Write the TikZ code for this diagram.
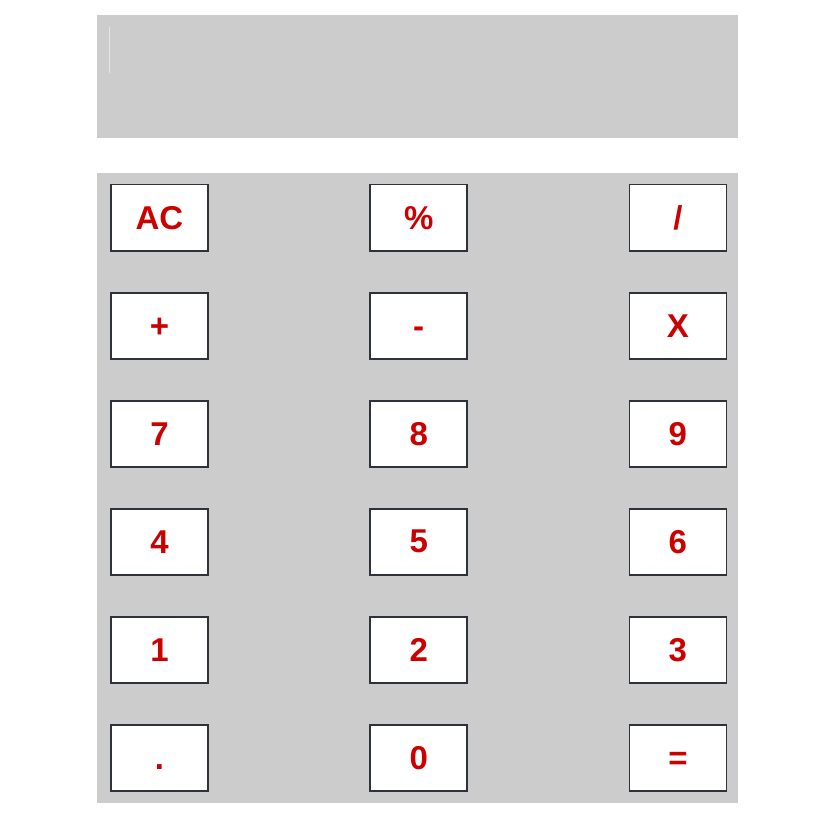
\documentclass[tikz,border=0pt]{standalone}
\usepackage{fontspec}
\setmainfont{Liberation Sans}
\definecolor{panel}{HTML}{CCCCCC}
\definecolor{keyred}{HTML}{CC0000}
\definecolor{keyedge}{HTML}{2E323A}
\definecolor{cursor}{HTML}{E6E6E6}
\begin{document}
\begin{tikzpicture}[x=1pt,y=-1pt,
  keybox/.style={draw=keyedge, line width=1.6pt, fill=white, minimum width=97pt, minimum height=66pt, inner sep=0pt, font=\fontsize{33}{33}\selectfont\bfseries, text=keyred, anchor=center}]
\useasboundingbox (0,0) rectangle (821,813);
\fill[white] (0,0) rectangle (821,813);
% display
\fill[panel] (97,15) rectangle (738,138.5);
\draw[cursor, line width=1pt] (109.5,27) -- (109.5,73);
% keypad
\fill[panel] (97,172.7) rectangle (738,802.7);
\node[keybox] (kac)  at (159.5,217.7) {\vphantom{A}AC};
\node[keybox] (kpc)  at (418.7,217.7) {\vphantom{A}\%};
\node[keybox] (kdiv) at (677.9,217.7) {\vphantom{A}/};
\node[keybox] (kadd) at (159.5,325.7) {\vphantom{A}+};
\node[keybox] (ksub) at (418.7,325.7) {\vphantom{A}-};
\node[keybox] (kmul) at (677.9,325.7) {\vphantom{A}X};
\node[keybox] (k7)   at (159.5,433.7) {\vphantom{A}7};
\node[keybox] (k8)   at (418.7,433.7) {\vphantom{A}8};
\node[keybox] (k9)   at (677.9,433.7) {\vphantom{A}9};
\node[keybox] (k4)   at (159.5,541.7) {\vphantom{A}4};
\node[keybox] (k5)   at (418.7,541.7) {\vphantom{A}5};
\node[keybox] (k6)   at (677.9,541.7) {\vphantom{A}6};
\node[keybox] (k1)   at (159.5,649.7) {\vphantom{A}1};
\node[keybox] (k2)   at (418.7,649.7) {\vphantom{A}2};
\node[keybox] (k3)   at (677.9,649.7) {\vphantom{A}3};
\node[keybox] (kdot) at (159.5,757.7) {\vphantom{A}.};
\node[keybox] (k0)   at (418.7,757.7) {\vphantom{A}0};
\node[keybox] (keq)  at (677.9,757.7) {\vphantom{A}=};
\end{tikzpicture}
\end{document}
